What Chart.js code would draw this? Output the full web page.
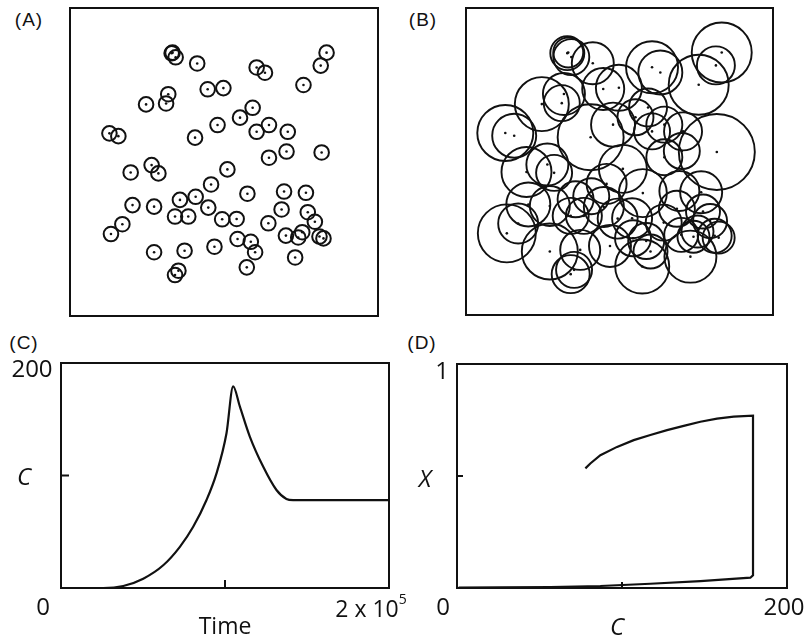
<!DOCTYPE html>
<html lang="en">
<head>
<meta charset="UTF-8">
<script src="https://cdn.jsdelivr.net/npm/chart.js"></script>
<style>
  body, html { margin: 0; padding: 0; background: #fff; }
  .wrap { position: relative; width: 806px; height: 638px; overflow: hidden; }
  canvas { position: absolute; }
  .lbl {
    position: absolute; transform: translate(-50%, -50%);
    line-height: 1; white-space: nowrap; color: #111;
    font-family: 'Open Sans', sans-serif; font-size: 24px;
  }
  .panel { font-family: 'Liberation Sans', Arial, sans-serif; font-size: 19px; letter-spacing: 1px; }
  .it { font-style: italic; }
  sup { font-size: 14px; position: relative; top: -4px; }
</style>
</head>
<body>
<div class="wrap">
  <canvas id="chartA" width="324" height="324" style="left:62px;top:0px"></canvas>
  <canvas id="chartB" width="323" height="323" style="left:458px;top:0px"></canvas>
  <canvas id="chartC" width="344" height="241" style="left:53px;top:355px"></canvas>
  <canvas id="chartD" width="346" height="240" style="left:449px;top:356px"></canvas>

  <div class="lbl panel" style="left:29px;top:19px">(A)</div>
  <div class="lbl panel" style="left:423px;top:19px">(B)</div>
  <div class="lbl panel" style="left:24px;top:342px">(C)</div>
  <div class="lbl panel" style="left:422px;top:342px">(D)</div>

  <div class="lbl" style="left:32px;top:368px">200</div>
  <div class="lbl it" style="left:24px;top:476px">C</div>
  <div class="lbl" style="left:43px;top:606px">0</div>
  <div class="lbl" style="left:371px;top:608px;font-size:23px">2 x 10<sup>5</sup></div>
  <div class="lbl" style="left:225px;top:625px;font-size:23px">Time</div>

  <div class="lbl" style="left:442px;top:370px">1</div>
  <div class="lbl it" style="left:425px;top:478px">X</div>
  <div class="lbl" style="left:443px;top:606px">0</div>
  <div class="lbl" style="left:784px;top:606px">200</div>
  <div class="lbl it" style="left:617px;top:626px">C</div>
</div>
<script>
  // Cell positions (same points in A and B), 0-100 units
  const cellX = [33.0, 34.3, 33.3, 41.3, 83.3, 81.4, 60.6, 63.3, 75.8, 44.7, 49.8, 24.7, 31.9, 31.2, 59.3, 55.2,
    47.9, 60.6, 64.6, 70.7, 12.8, 15.7, 40.6, 64.6, 70.3, 81.7, 19.7, 26.5, 28.7, 51.1, 45.8, 57.6, 69.5, 76.6,
    40.8, 35.7, 20.3, 27.3, 44.9, 68.7, 34.1, 38.4, 49.4, 54.1, 64.4, 77.2, 79.5, 17.0, 13.3, 70.1, 74.1, 75.4,
    81.0, 82.3, 54.4, 58.7, 60.1, 27.3, 37.2, 46.9, 73.1, 57.4, 34.1, 35.2];
  const cellY = [85.3, 84.0, 85.5, 82.0, 85.5, 81.3, 80.7, 79.0, 75.0, 73.6, 74.0, 68.7, 72.0, 69.0, 67.6, 64.4,
    62.0, 59.8, 62.0, 59.8, 59.3, 58.4, 57.9, 51.4, 53.4, 53.1, 46.6, 49.0, 46.3, 47.6, 42.7, 39.7, 40.4, 40.0,
    38.7, 37.7, 36.0, 35.5, 35.2, 34.6, 32.3, 32.3, 31.4, 31.5, 30.1, 33.7, 30.6, 29.8, 26.6, 26.1, 25.5, 27.2,
    25.8, 25.2, 25.0, 24.1, 20.7, 20.7, 21.2, 22.5, 19.0, 15.8, 13.3, 14.7];
  // Grown radii in panel B (pixels)
  const radiusB = [17, 18, 15, 21, 30, 19, 26, 22, 30, 21, 23, 27, 21, 18, 19, 18,
    22, 18, 18, 19, 28, 22, 33, 18, 18, 38, 25, 21, 18, 24, 20, 24, 20, 21,
    18, 18, 22, 20, 20, 18, 18, 18, 20, 20, 18, 17, 17, 20, 29, 17, 16, 16,
    17, 16, 18, 18, 17, 28, 20, 21, 26, 27, 19, 18];

  // Panel C: C over time
  const timeVals = [0, 25787, 37970, 50152, 62335, 72487, 80609, 88731, 94822, 100914, 104975,
    109036, 115127, 123249, 131371, 137462, 141523, 200000];
  const cVals = [0, 0, 1.8, 8.3, 20.2, 36.6, 54.4, 78.2, 101.9, 137.6, 179.2,
    161.4, 134.6, 107.9, 87.1, 79.2, 78.2, 78.2];

  // Panel D: X against C
  const loopC = [77.8, 80.8, 86.9, 97.0, 107.1, 117.2, 127.3, 137.4, 147.5, 157.6, 167.7, 179.4,
    179.4, 177.8, 147.5, 117.2, 86.9, 56.6, 26.3, 1.0];
  const loopX = [0.534, 0.556, 0.593, 0.630, 0.660, 0.683, 0.705, 0.724, 0.742, 0.756, 0.765, 0.769,
    0.057, 0.046, 0.031, 0.019, 0.009, 0.004, 0.003, 0.0015];

  Chart.defaults.animation = false;
  Chart.defaults.events = [];

  // box outline + inward ticks
  function framePlugin(xTicks, yTicks, len) {
    return {
      id: 'frame',
      afterDraw(chart) {
        const a = chart.chartArea, ctx = chart.ctx;
        ctx.save();
        ctx.strokeStyle = '#111';
        ctx.lineWidth = 2;
        ctx.strokeRect(a.left, a.top, a.right - a.left, a.bottom - a.top);
        ctx.beginPath();
        xTicks.forEach(v => {
          const px = chart.scales.x.getPixelForValue(v);
          ctx.moveTo(px, a.bottom); ctx.lineTo(px, a.bottom - len);
        });
        yTicks.forEach(v => {
          const py = chart.scales.y.getPixelForValue(v);
          ctx.moveTo(a.left, py); ctx.lineTo(a.left + len, py);
        });
        ctx.stroke();
        ctx.restore();
      }
    };
  }

  function hiddenScales(xmin, xmax, ymin, ymax) {
    return {
      x: { type: 'linear', display: false, min: xmin, max: xmax },
      y: { type: 'linear', display: false, min: ymin, max: ymax }
    };
  }

  const baseOptions = (scales) => ({
    responsive: false,
    layout: { padding: 8, autoPadding: false },
    plugins: { legend: { display: false }, tooltip: { enabled: false } },
    scales: scales
  });

  function cellChart(id, radii, lineW) {
    const rings = cellX.map((x, i) => ({ x: x, y: cellY[i], r: radii[i] }));
    const dots = cellX.map((x, i) => ({ x: x, y: cellY[i] }));
    return new Chart(document.getElementById(id), {
      type: 'bubble',
      data: {
        datasets: [
          { data: rings, backgroundColor: 'rgba(0,0,0,0)', borderColor: '#111', borderWidth: lineW, clip: false },
          { type: 'scatter', data: dots, pointRadius: 1.3, backgroundColor: '#111', borderWidth: 0 }
        ]
      },
      options: baseOptions(hiddenScales(0, 100, 0, 100)),
      plugins: [framePlugin([], [], 0)]
    });
  }

  cellChart('chartA', cellX.map(() => 7.3), 2);
  cellChart('chartB', radiusB, 1.9);

  new Chart(document.getElementById('chartC'), {
    type: 'scatter',
    data: {
      datasets: [{
        data: timeVals.map((t, i) => ({ x: t, y: cVals[i] })),
        showLine: true, borderColor: '#111', borderWidth: 2.2, pointRadius: 0,
        cubicInterpolationMode: 'monotone'
      }]
    },
    options: baseOptions(hiddenScales(0, 200000, 0, 200)),
    plugins: [framePlugin([100000], [100], 8)]
  });

  new Chart(document.getElementById('chartD'), {
    type: 'scatter',
    data: {
      datasets: [{
        data: loopC.map((c, i) => ({ x: c, y: loopX[i] })),
        showLine: true, borderColor: '#111', borderWidth: 2.2, pointRadius: 0, tension: 0
      }]
    },
    options: baseOptions(hiddenScales(0, 200, 0, 1)),
    plugins: [framePlugin([100], [0.5], 6)]
  });
</script>
</body>
</html>
